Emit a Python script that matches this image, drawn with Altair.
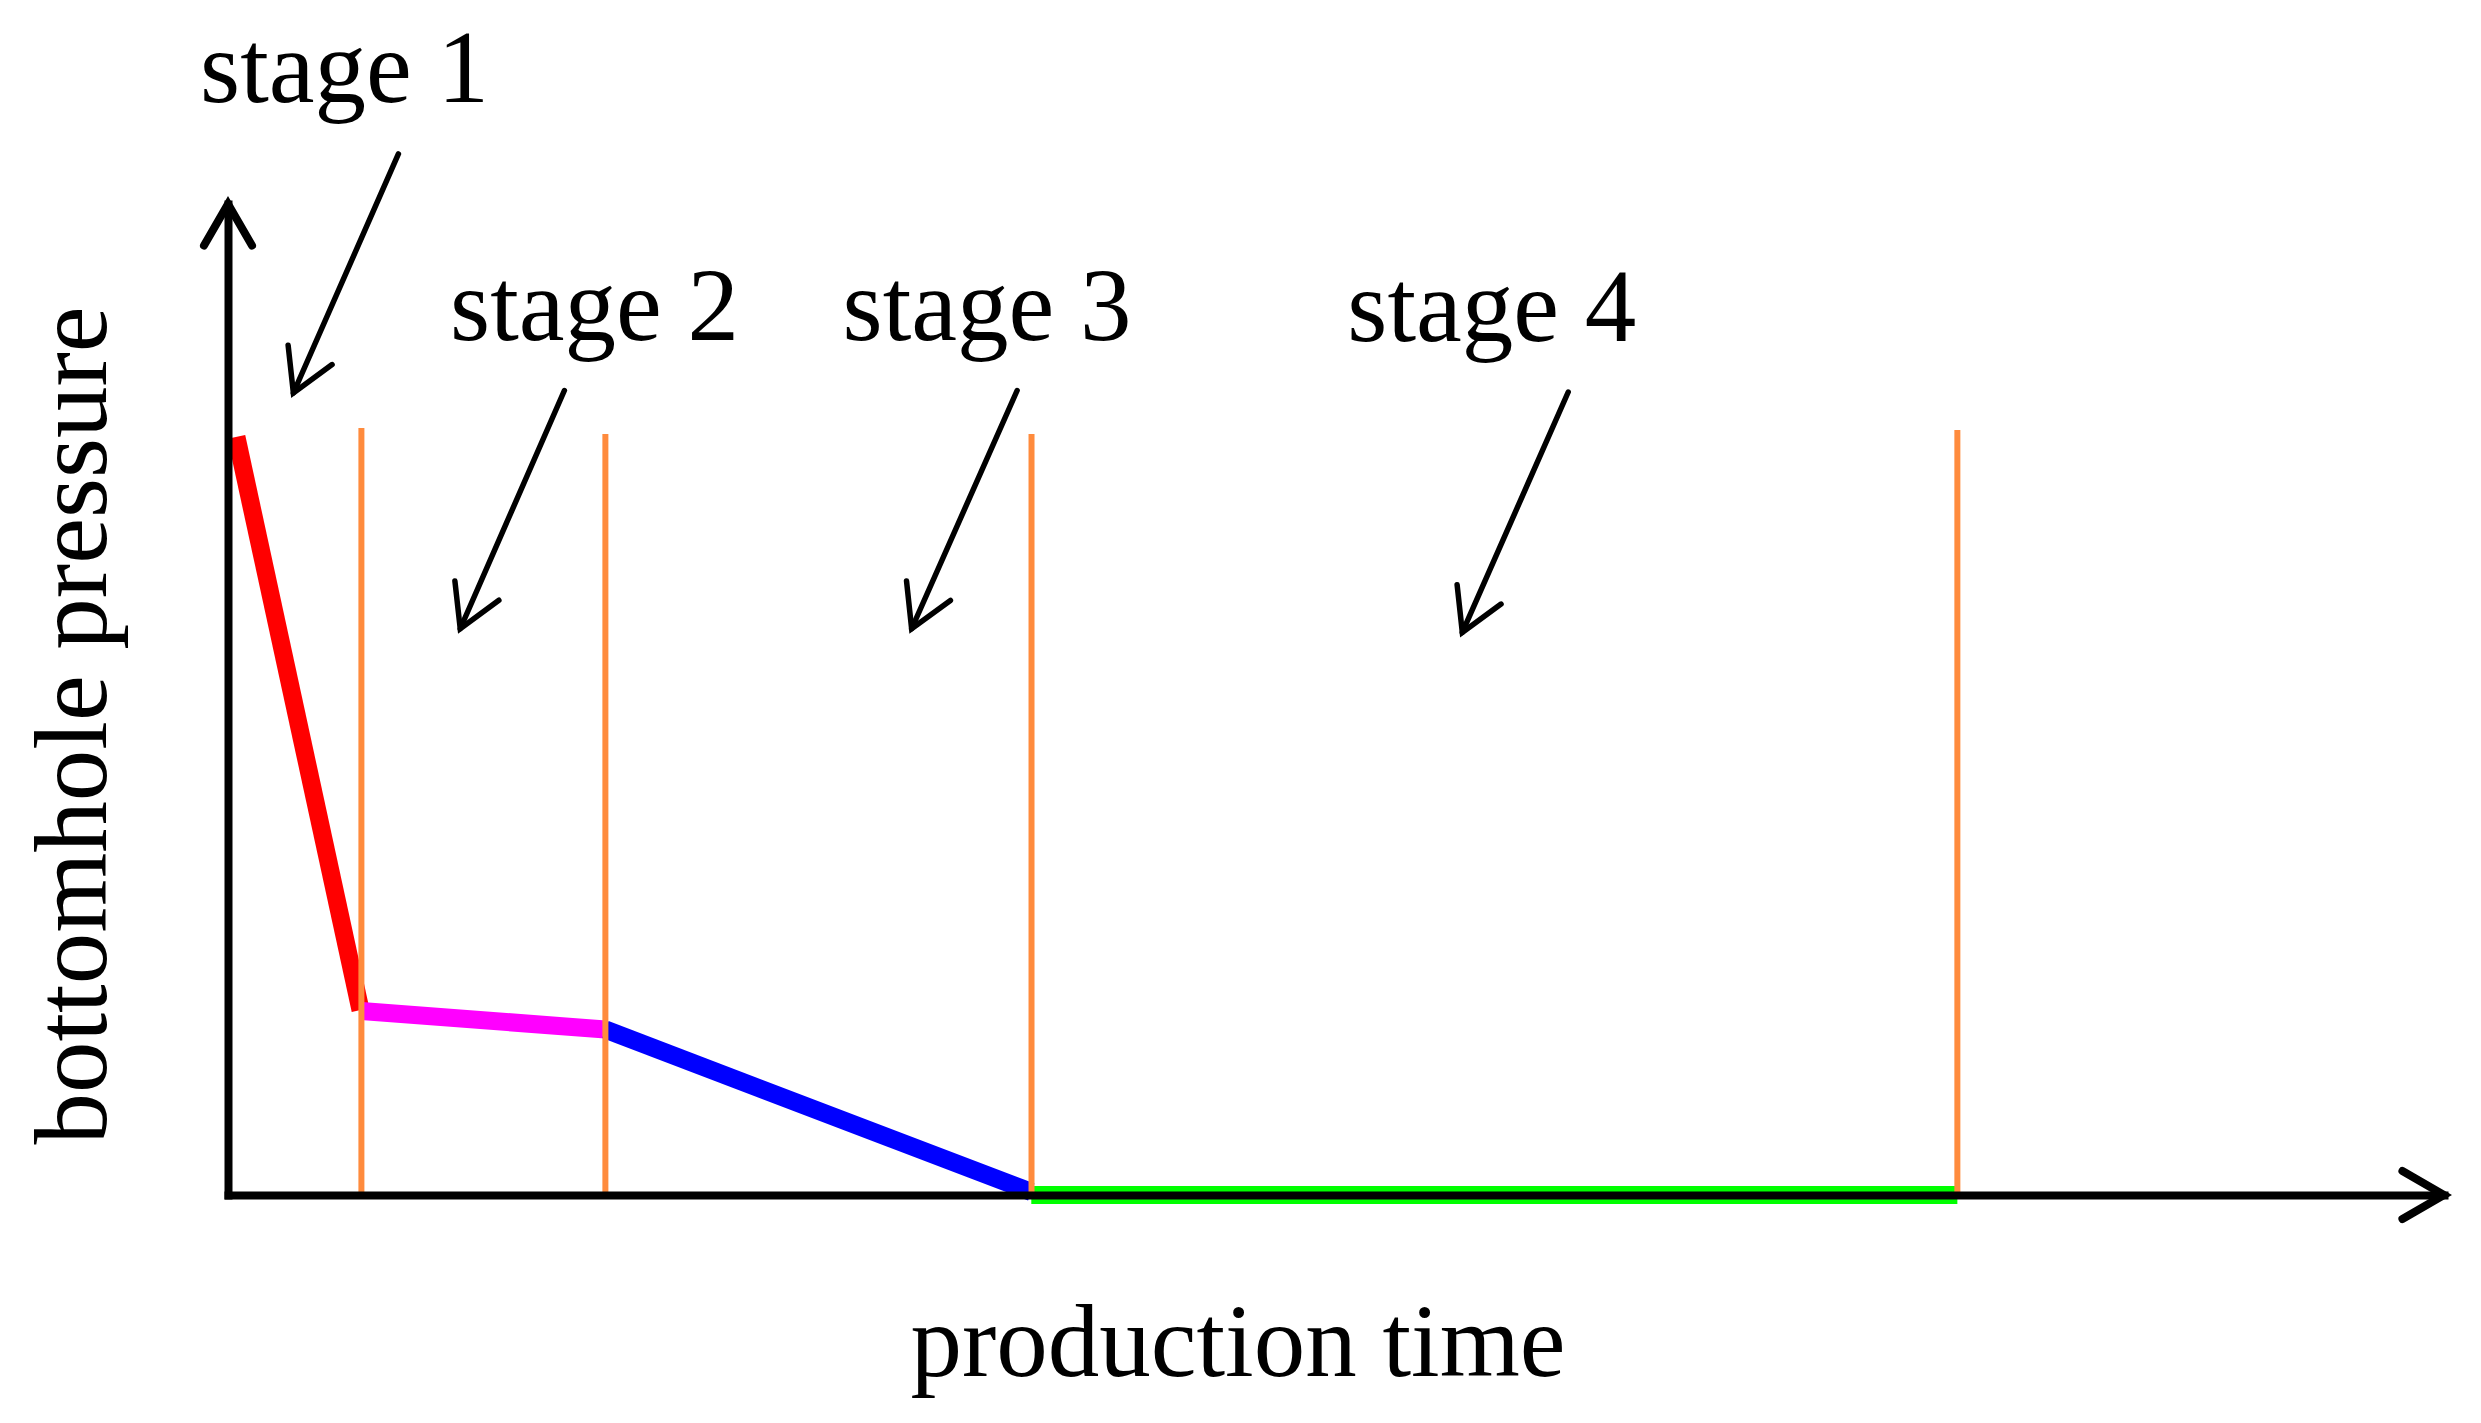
import math
import altair as alt
import pandas as pd

# ---------------- data ----------------
segment_names = ["stage 1", "stage 2", "stage 3", "stage 4"]
segment_colors = ["#FF0000", "#FF00FF", "#0000FF", "#00FF00"]
segment_t0 = [0.38, 6.02, 17.03, 36.25]
segment_t1 = [5.98, 17.03, 36.25, 78.04]
segment_p0 = [76.5, 18.57, 16.70, 0.0]
segment_p1 = [18.67, 16.70, 0.30, 0.0]

boundary_t = [6.02, 17.03, 36.26, 78.04]
boundary_top = [77.4, 76.8, 76.8, 77.2]
boundary_base = [0.0, 0.0, 0.0, 0.0]

label_text = ["stage 1", "stage 2", "stage 3", "stage 4"]
label_t = [5.26, 16.54, 34.25, 57.03]
label_p = [110.3, 86.28, 86.28, 86.18]

arrow_start_t = [7.69, 15.18, 35.61, 60.48]
arrow_start_p = [105.05, 81.18, 81.18, 81.03]
arrow_tip_t = [2.95, 10.48, 30.85, 55.70]
arrow_tip_p = [80.93, 57.14, 57.14, 56.77]

x_title = "production time"
y_title = "bottomhole pressure"
T_MAX = 100
P_MAX = 100

# ---------------- layout ----------------
PLOT_W = 2216
PLOT_H = 991
PAD = {"left": 220, "top": 196, "right": 29, "bottom": 220}
FONT = "Liberation Serif"
FS = 103
ORANGE = "#FF8B3D"
HEAD_PATH = "M -0.5 0.866 L 0 0 L 0.5 0.866"
HEAD_SIZE = 9216

sx = PLOT_W / T_MAX
sy = PLOT_H / P_MAX

# ---------------- tables ----------------
rows = []
for n, a, b, c, d in zip(segment_names, segment_t0, segment_t1, segment_p0, segment_p1):
    rows.append({"segment": n, "t": a, "p": c, "o": 0})
    rows.append({"segment": n, "t": b, "p": d, "o": 1})
curve_df = pd.DataFrame(rows)

bound_df = pd.DataFrame({"t": boundary_t, "p": boundary_top, "p2": boundary_base})
label_df = pd.DataFrame({"label": label_text, "t": label_t, "p": label_p})
shaft_df = pd.DataFrame({"t": arrow_start_t, "p": arrow_start_p,
                         "t2": arrow_tip_t, "p2": arrow_tip_p})

angles = []
for a, b, c, d in zip(arrow_start_t, arrow_start_p, arrow_tip_t, arrow_tip_p):
    dx = (c - a) * sx
    dy = -(d - b) * sy
    angles.append(math.degrees(math.atan2(dx, -dy)) % 360)
head_df = pd.DataFrame({"t": arrow_tip_t, "p": arrow_tip_p, "angle": angles})
axis_head_df = pd.DataFrame({"t": [0, T_MAX], "p": [P_MAX, 0], "angle": [0, 90]})

# ---------------- scales / axes ----------------
x_scale = alt.Scale(domain=[0, T_MAX], nice=False, zero=False)
y_scale = alt.Scale(domain=[0, P_MAX], nice=False, zero=False)

common_axis = dict(
    domain=True, domainColor="black", domainWidth=8, domainCap="square",
    ticks=False, labels=False, grid=False,
    titleFont=FONT, titleFontSize=FS, titleFontWeight="normal", titleColor="black",
    titleAlign="center", titleBaseline="alphabetic", zindex=1,
)
x_axis = alt.Axis(title=x_title, titleX=1009.5, titleY=180, **common_axis)
y_axis = alt.Axis(title=y_title, titleX=-123, titleY=521, titleAngle=270, **common_axis)


def X(field):
    return alt.X(field, type="quantitative", scale=x_scale, axis=x_axis)


def Y(field):
    return alt.Y(field, type="quantitative", scale=y_scale, axis=y_axis)


curve = alt.Chart(curve_df).mark_line(strokeWidth=18, strokeCap="butt").encode(
    x=X("t"), y=Y("p"),
    color=alt.Color("segment:N", scale=alt.Scale(domain=segment_names, range=segment_colors), legend=None),
    order="o:Q",
)

bounds = alt.Chart(bound_df).mark_rule(color=ORANGE, strokeWidth=6).encode(
    x=X("t"), y=Y("p"), y2="p2"
)

shafts = alt.Chart(shaft_df).mark_rule(color="black", strokeWidth=5.5, strokeCap="round").encode(
    x=X("t"), y=Y("p"), x2="t2", y2="p2"
)

heads = alt.Chart(head_df).mark_point(
    shape=HEAD_PATH, size=HEAD_SIZE, filled=False, color="black", opacity=1,
    strokeWidth=5.5, strokeJoin="miter", strokeCap="round",
).encode(x=X("t"), y=Y("p"), angle=alt.Angle("angle:Q", scale=None))

axis_heads = alt.Chart(axis_head_df).mark_point(
    shape=HEAD_PATH, size=HEAD_SIZE, filled=False, color="black", opacity=1,
    strokeWidth=8, strokeJoin="miter", strokeCap="round",
).encode(x=X("t"), y=Y("p"), angle=alt.Angle("angle:Q", scale=None))

labels = alt.Chart(label_df).mark_text(
    font=FONT, fontSize=FS, color="black", align="center", baseline="alphabetic"
).encode(x=X("t"), y=Y("p"), text="label:N")

chart = alt.layer(curve, bounds, shafts, heads, axis_heads, labels).properties(
    width=PLOT_W, height=PLOT_H, padding=PAD,
    autosize=alt.AutoSizeParams(type="none"),
    background="white",
).configure_view(stroke=None)

chart.save("out.html", embed_options={"renderer": "svg", "actions": False})
